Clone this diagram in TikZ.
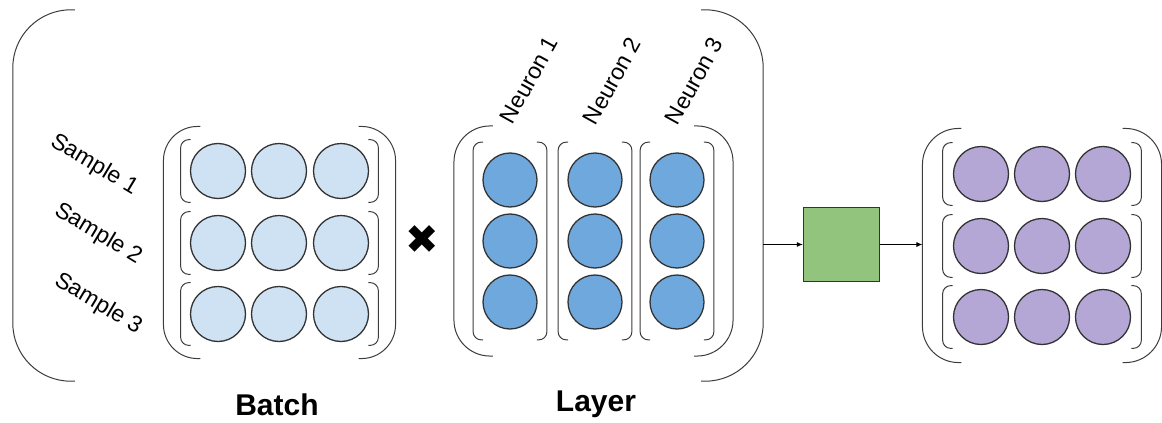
\documentclass[tikz,border=0pt]{standalone}
\usepackage{fontspec}
\setmainfont{Liberation Sans}
\setsansfont{Liberation Sans}
\newfontfamily\symfont{DejaVu Sans}
\usepackage{tikz}
\usetikzlibrary{arrows.meta,calc,fit,positioning}
\definecolor{MMInput}{HTML}{CFE2F3}
\definecolor{MMWeight}{HTML}{6FA8DC}
\definecolor{MMOutput}{HTML}{B4A7D6}
\definecolor{MMAct}{HTML}{93C47D}
\definecolor{MMLine}{HTML}{333333}
\definecolor{MMBrk}{HTML}{3C3C3C}
\newcommand{\mmBrackets}[3]{%
  \draw[mmBrk, rounded corners=#3] ([xshift=#2]#1.north west) -- (#1.north west) -- (#1.south west) -- ([xshift=#2]#1.south west);
  \draw[mmBrk, rounded corners=#3] ([xshift=-#2]#1.north east) -- (#1.north east) -- (#1.south east) -- ([xshift=-#2]#1.south east);
}
\tikzset{
  mmCell/.style={
    circle, draw=MMLine, line width=1.3pt, fill=#1,
    minimum size=55pt, inner sep=0pt
  },
  mmCell/.default=MMInput,
  mmGroup/.style 2 args={
    rectangle, inner xsep=#1, inner ysep=#2
  },
  mmBrk/.style={draw=MMBrk, line width=1pt},
  mmBox/.style={
    rectangle, draw=MMLine, line width=1.3pt, fill=#1,
    minimum width=76pt, minimum height=74pt
  },
  mmLabel/.style={font=\fontsize{23}{26}\selectfont, inner sep=0pt},
  mmTitle/.style={font=\bfseries\fontsize{30}{33}\selectfont, inner sep=0pt},
  mmArrow/.style={-{Latex[length=6pt,width=5pt]}, draw=black, line width=0.9pt}
}
\begin{document}
\begin{tikzpicture}[x=1pt, y=1pt]
  \useasboundingbox (0,0) rectangle (1162,-423);

  % batch: one row per sample
  \foreach \r/\y in {1/171,2/243,3/314}
    \foreach \c/\x in {1/218,2/279,3/341}
      \node[mmCell=MMInput] (b-\r-\c) at (\x,-\y) {};
  \foreach \r in {1,2,3} {
    \node[mmGroup={9pt}{3pt}, fit=(b-\r-1)(b-\r-3)] (brow\r) {};
    \mmBrackets{brow\r}{10pt}{8pt}
  }
  \node[mmGroup={17pt}{13pt}, fit=(brow1)(brow3)] (batch) {};
  \mmBrackets{batch}{37pt}{34pt}

  \node[mmLabel, rotate=-31] (smp1) at (94,-165) {Sample 1};
  \node[mmLabel, rotate=-31] (smp2) at (98,-234) {Sample 2};
  \node[mmLabel, rotate=-31] (smp3) at (98,-304) {Sample 3};
  \node[mmTitle] (batchlbl) at (277,-405) {Batch};

  \node[font=\symfont\fontsize{40}{40}\selectfont, inner sep=0pt] (times) at (422,-240) {✖};

  % layer: one column per neuron
  \foreach \c/\x in {1/510,2/595,3/677}
    \foreach \r/\y in {1/180,2/241,3/302}
      \node[mmCell=MMWeight, minimum size=54pt] (w-\r-\c) at (\x,-\y) {};
  \foreach \c in {1,2,3} {
    \node[mmGroup={9pt}{10pt}, fit=(w-1-\c)(w-3-\c)] (lcol\c) {};
    \mmBrackets{lcol\c}{10pt}{8pt}
  }
  \node[mmGroup={19pt}{16pt}, fit=(lcol1)(lcol3)] (layer) {};
  \mmBrackets{layer}{39pt}{36pt}

  \node[mmLabel, rotate=61] (nrn1) at (529,-80) {Neuron 1};
  \node[mmLabel, rotate=61] (nrn2) at (612,-81) {Neuron 2};
  \node[mmLabel, rotate=61] (nrn3) at (694,-81) {Neuron 3};
  \node[mmTitle] (layerlbl) at (596,-404) {Layer};

  \coordinate (ptl) at (13,-10);
  \coordinate (pbr) at (763,-381);
  \node[fit=(ptl)(pbr), inner sep=0pt] (prod) {};
  \mmBrackets{prod}{62pt}{58pt}

  \node[mmBox=MMAct] (act) at (841.5,-244.5) {};

  % output
  \foreach \r/\y in {1/174,2/246,3/317}
    \foreach \c/\x in {1/981,2/1042,3/1103}
      \node[mmCell=MMOutput] (o-\r-\c) at (\x,-\y) {};
  \foreach \r in {1,2,3} {
    \node[mmGroup={10pt}{3pt}, fit=(o-\r-1)(o-\r-3)] (orow\r) {};
    \mmBrackets{orow\r}{10pt}{8pt}
  }
  \node[mmGroup={20pt}{14pt}, fit=(orow1)(orow3)] (out) {};
  \mmBrackets{out}{39pt}{36pt}

  \draw[mmArrow] (prod.east |- act.west) -- (act.west);
  \draw[mmArrow] (act.east) -- (out.west |- act.east);
\end{tikzpicture}
\end{document}
